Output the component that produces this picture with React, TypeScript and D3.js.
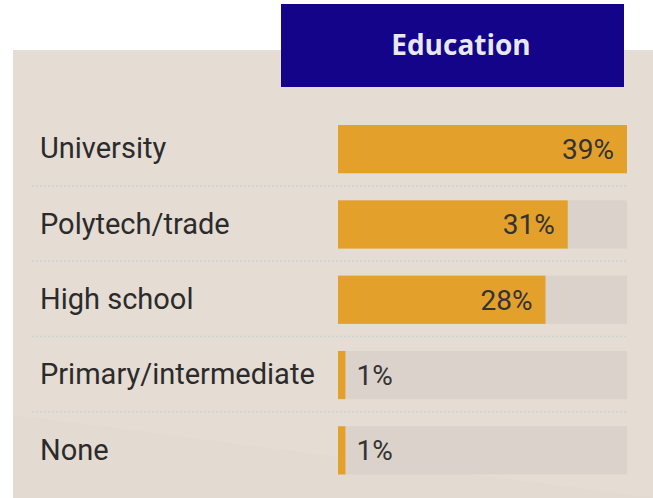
import React, { useEffect, useRef } from "react";
import * as d3 from "d3";

const categories = ["University", "Polytech/trade", "High school", "Primary/intermediate", "None"];
const values = [39, 31, 28, 1, 1];
const valueLabels = ["39%", "31%", "28%", "1%", "1%"];
const title = "Education";

const App = () => {
  const svgRef = useRef<SVGSVGElement>(null);

  useEffect(() => {
    const width = 653;
    const height = 498;
    const svg = d3.select(svgRef.current).attr("width", width).attr("height", height);
    svg.selectAll("*").remove();

    // panel background
    svg.append("rect").attr("x", 13).attr("y", 50).attr("width", 640).attr("height", 448).attr("fill", "#e5dcd4");
    svg
      .append("path")
      .attr("d", "M13,415 L653,498 L13,498 Z")
      .attr("fill", "#e2d8d2")
      .attr("opacity", 0.7);

    // header
    svg.append("rect").attr("x", 281).attr("y", 4).attr("width", 343).attr("height", 83).attr("fill", "#14048a");
    svg
      .append("text")
      .attr("x", 461)
      .attr("y", 55)
      .attr("text-anchor", "middle")
      .attr("font-family", "'Open Sans', sans-serif")
      .attr("font-weight", 700)
      .attr("font-size", 28)
      .attr("fill", "#e8e8f0")
      .text(title);

    const x = d3.scaleLinear().domain([0, d3.max(values) as number]).range([338, 627]);
    const y = d3.scaleBand().domain(categories).range([111.5, 488]).paddingInner(0.36).paddingOuter(0.18);

    const rows = svg
      .selectAll("g.row")
      .data(categories)
      .enter()
      .append("g")
      .attr("class", "row");

    // separators
    svg
      .selectAll("line.sep")
      .data(categories.slice(1))
      .enter()
      .append("line")
      .attr("x1", 32)
      .attr("x2", 627)
      .attr("y1", (d) => (y(d) as number) - y.step() * 0.18 - 1)
      .attr("y2", (d) => (y(d) as number) - y.step() * 0.18 - 1)
      .attr("stroke", "#d0d0d8")
      .attr("stroke-width", 1.5)
      .attr("stroke-dasharray", "2,2");

    rows
      .append("rect")
      .attr("x", x(0))
      .attr("y", (d) => y(d) as number)
      .attr("width", x(d3.max(values) as number) - x(0))
      .attr("height", y.bandwidth())
      .attr("fill", "#dbd2cb");

    rows
      .append("rect")
      .attr("x", x(0))
      .attr("y", (d) => y(d) as number)
      .attr("width", (d, i) => x(values[i]) - x(0))
      .attr("height", y.bandwidth())
      .attr("fill", "#e3a02b");

    rows
      .append("text")
      .attr("x", 40)
      .attr("y", (d) => (y(d) as number) + y.bandwidth() / 2 - 1)
      .attr("dy", "0.35em")
      .attr("font-family", "Roboto, sans-serif")
      .attr("font-size", 29)
      .attr("fill", "#2b2b2b")
      .text((d) => d);

    rows
      .append("text")
      .attr("x", (d, i) => (values[i] > 5 ? x(values[i]) - 13 : x(values[i]) + 11))
      .attr("y", (d) => (y(d) as number) + y.bandwidth() / 2)
      .attr("dy", "0.35em")
      .attr("text-anchor", (d, i) => (values[i] > 5 ? "end" : "start"))
      .attr("font-family", "Roboto, sans-serif")
      .attr("font-size", 28)
      .attr("fill", "#333333")
      .text((d, i) => valueLabels[i]);
  }, []);

  return (
    <div style={{ position: "absolute", left: 0, top: 0 }}>
      <svg ref={svgRef}></svg>
    </div>
  );
};

export default App;
